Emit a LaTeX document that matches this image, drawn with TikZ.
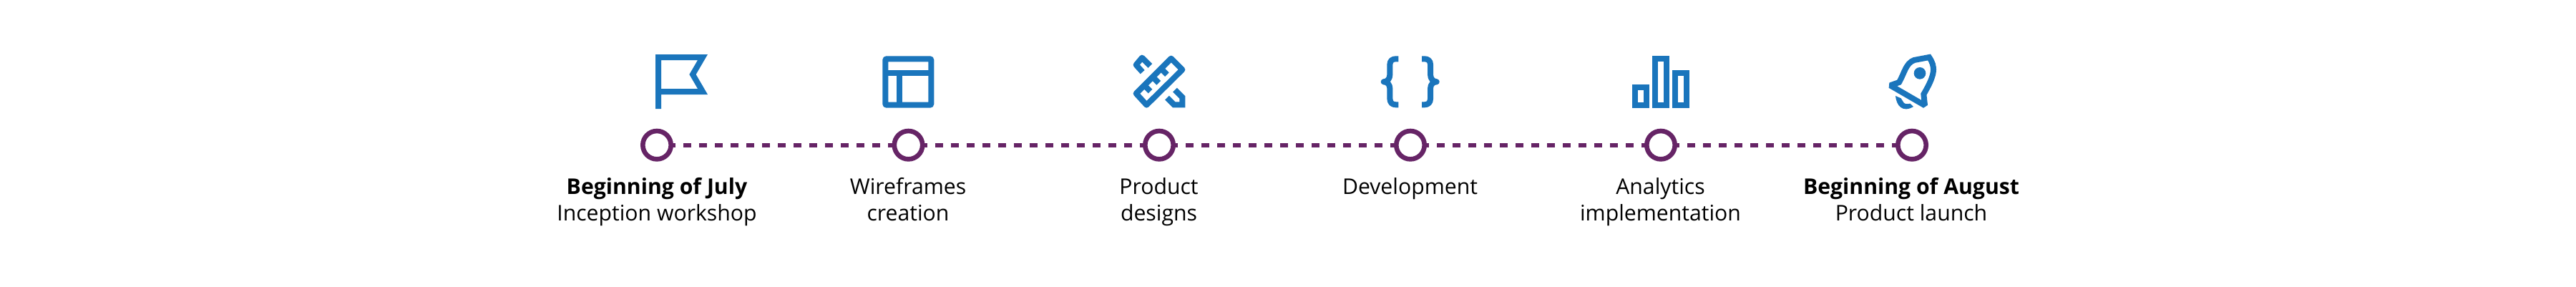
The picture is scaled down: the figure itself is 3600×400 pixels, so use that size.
\documentclass[tikz,border=0pt]{standalone}
\usepackage{fontspec}
\setmainfont{Open Sans}
\usetikzlibrary{backgrounds}
\definecolor{iconblue}{HTML}{1A75BC}
\definecolor{linepurple}{HTML}{662466}
\tikzset{
  icon/.style={draw=iconblue,line width=8pt,fill=none,line join=miter,miter limit=10},
  dot/.style={circle,draw=linepurple,fill=white,line width=6.6pt,minimum size=39.4pt,inner sep=0pt,outer sep=0pt},
  link/.style={draw=linepurple,line width=6pt,dash pattern=on 11pt off 11pt,dash phase=7pt},
  caption/.style={anchor=base,align=center,text=black,inner sep=0pt,font=\fontsize{30.2}{37}\selectfont},
}
\begin{document}
\begin{tikzpicture}[x=1pt,y=-1pt]
\useasboundingbox (0,0) rectangle (3600,400);
% timeline
\node[dot] (c1) at (918,202.7) {};
\node[dot] (c2) at (1269.5,202.7) {};
\node[dot] (c3) at (1620,202.7) {};
\node[dot] (c4) at (1971,202.7) {};
\node[dot] (c5) at (2321,202.7) {};
\node[dot] (c6) at (2672,202.7) {};
\begin{scope}[on background layer]
\draw[link] (c1.center) -- (c2.center);
\draw[link] (c2.center) -- (c3.center);
\draw[link] (c3.center) -- (c4.center);
\draw[link] (c4.center) -- (c5.center);
\draw[link] (c5.center) -- (c6.center);
\end{scope}
% captions
\node[caption] (t1) at (918,308) {\textbf{Beginning of July}\\Inception workshop};
\node[caption] (t2) at (1269,308) {Wireframes\\creation};
\node[caption] (t3) at (1619.5,308) {Product\\designs};
\node[caption] (t4) at (1970.5,271) {Development};
\node[caption] (t5) at (2320.5,308) {Analytics\\implementation};
\node[caption] (t6) at (2671,308) {\textbf{Beginning of August}\\Product launch};
% flag
\draw[icon,miter limit=3] (920,152) -- (920,80) -- (982,80) -- (968,104) -- (982,128) -- (920,128);
% wireframe
\draw[icon,rounded corners=2pt] (1237.3,82.3) rectangle (1301.3,146.7);
\draw[icon] (1237.3,102) -- (1301.3,102);
\draw[icon] (1257.2,102) -- (1257.2,146.7);
% ruler and pencil (crop coordinates: x/3+1570, y/3+60)
\begin{scope}[shift={(1570,60)},x=0.3333pt,y=-0.3333pt]
\draw[icon,line join=round] (200,65) -- (247,112) -- (97,260) -- (53,212) -- cycle;
\draw[icon] (157.5,107.5) -- (182.5,132.5);
\draw[icon] (122.5,142.5) -- (147.5,167.5);
\draw[icon] (87.5,177.5) -- (112.5,202.5);
\draw[icon,line join=round] (112,96) -- (78,62) -- (53,92) -- (80,122);
\draw[icon] (216,197) -- (247,228) -- (247,259) -- (212,259) -- (183,230);
\end{scope}
% braces
\begin{scope}[shift={(1970.7,0)}]
\draw[icon,line join=round] (-16.3,82.3) -- (-20,82.3) .. controls (-25,82.3) and (-28.3,85) .. (-28.3,90) -- (-28.3,104) .. controls (-28.3,110) and (-32,114.3) .. (-37,114.3) .. controls (-32,114.3) and (-28.3,118) .. (-28.3,124) -- (-28.3,138) .. controls (-28.3,143.5) and (-25,146.3) .. (-20,146.3) -- (-16.3,146.3);
\draw[icon,line join=round] (16.3,82.3) -- (20,82.3) .. controls (25,82.3) and (28.3,85) .. (28.3,90) -- (28.3,104) .. controls (28.3,110) and (32,114.3) .. (37,114.3) .. controls (32,114.3) and (28.3,118) .. (28.3,124) -- (28.3,138) .. controls (28.3,143.5) and (25,146.3) .. (20,146.3) -- (16.3,146.3);
\end{scope}
% bars
\draw[icon] (2285,122.3) rectangle (2301.3,146.7);
\draw[icon] (2313,82.3) rectangle (2329.3,146.7);
\draw[icon] (2340.7,102.3) rectangle (2357,146.7);
% rocket (crop coordinates: x/3+2630, y/3+60)
\begin{scope}[shift={(2630,60)},x=0.3333pt,y=-0.3333pt]
\draw[icon,miter limit=2] (35,178) -- (72,165) .. controls (95,125) and (100,85) .. (135,72) -- (198,60) .. controls (225,100) and (225,130) .. (175,215) -- (180,262) -- cycle;
\fill[iconblue] (159,127) circle (25);
\fill[iconblue] (57,222) .. controls (60,260) and (85,295) .. (132,267) -- (118,254) .. controls (105,258) and (92,256) .. (88,245) -- (80,232) -- cycle;
\end{scope}
\end{tikzpicture}
\end{document}
